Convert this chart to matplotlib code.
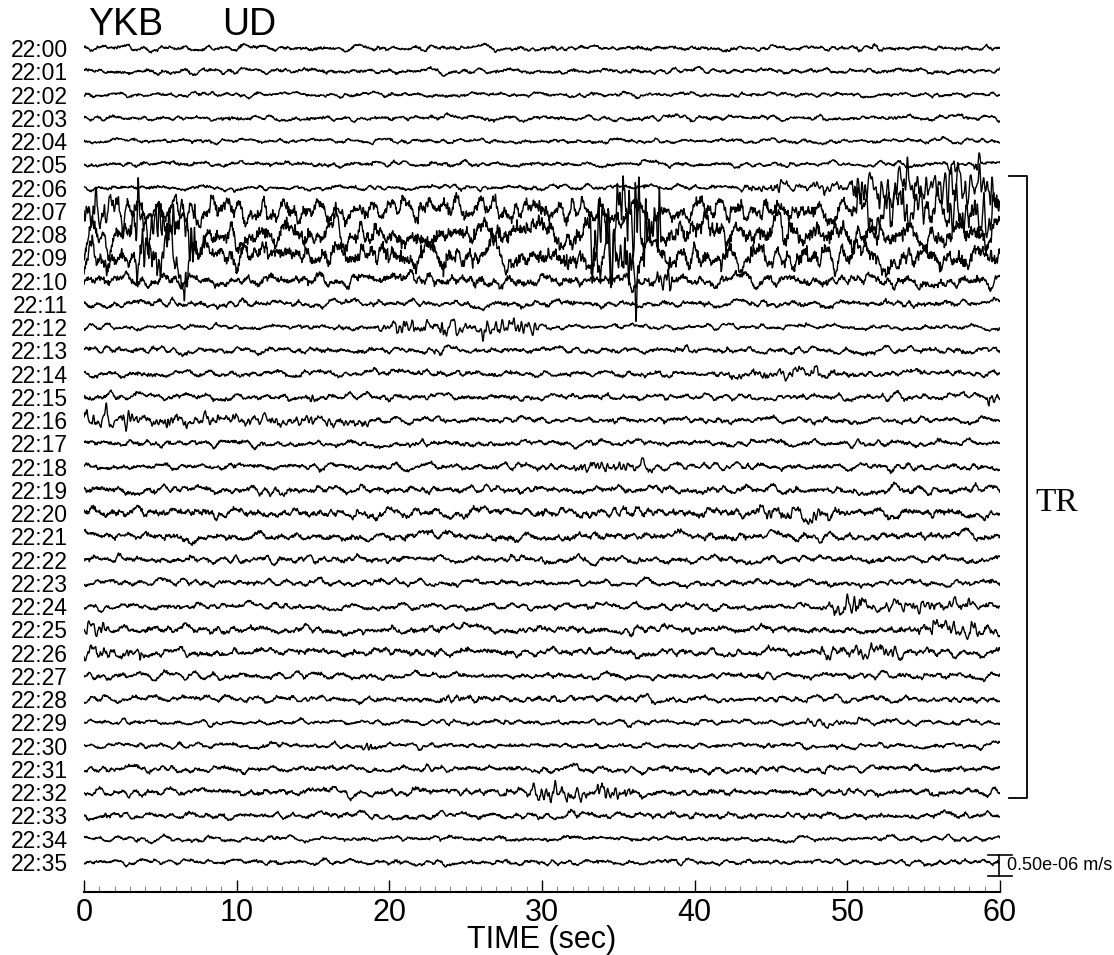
import numpy as np
import matplotlib.pyplot as plt
from matplotlib.ticker import MultipleLocator

plt.rcParams['font.family'] = ['Liberation Sans', 'DejaVu Sans']

# start time of each one-minute record (station YKB, UD component)
trace_labels = ["22:%02d" % m for m in range(36)]

# background peak amplitude of each record (1e-6 m/s)
base_amp = [0.08, 0.08, 0.07, 0.08, 0.07, 0.08, 0.08, 0.36, 0.42, 0.40,
            0.19, 0.11, 0.08, 0.10, 0.10, 0.10, 0.10, 0.10, 0.10, 0.12,
            0.15, 0.13, 0.11, 0.10, 0.10, 0.12, 0.12, 0.10, 0.10, 0.08,
            0.08, 0.10, 0.11, 0.10, 0.08, 0.08]

# bursts seen on the records: (record index, start s, end s, peak 1e-6 m/s)
bursts = [
    (5, 56.5, 57.3, 0.30), (5, 58.2, 58.8, 0.30),
    (6, 43.0, 50.0, 0.12), (6, 50.0, 60.0, 0.60),
    (7, 0.0, 3.0, 0.45), (7, 50.0, 60.0, 0.55),
    (8, 3.0, 7.5, 0.85), (8, 33.0, 38.0, 1.25),
    (9, 3.0, 7.0, 0.65), (9, 33.0, 36.5, 0.95),
    (10, 37.0, 39.0, 0.30),
    (12, 19.0, 30.0, 0.20),
    (14, 42.0, 49.0, 0.15),
    (15, 14.5, 15.2, 0.15), (15, 59.0, 60.0, 0.25),
    (16, 0.0, 2.0, 0.40), (16, 2.0, 9.0, 0.20), (16, 9.0, 19.0, 0.13),
    (18, 32.0, 37.5, 0.14),
    (20, 44.0, 49.0, 0.15),
    (24, 48.5, 51.5, 0.25), (24, 51.5, 60.0, 0.13),
    (25, 0.0, 2.0, 0.20), (25, 54.5, 60.0, 0.20),
    (26, 0.0, 4.0, 0.15), (26, 48.0, 54.0, 0.17),
    (28, 23.0, 26.0, 0.10),
    (29, 47.0, 50.0, 0.08),
    (30, 18.0, 19.5, 0.15),
    (32, 29.0, 36.0, 0.22),
]

scale_value = 0.5          # scale bar, 1e-6 m/s
bracket_first, bracket_last = "22:06", "22:32"

dt = 0.01
t = np.arange(0, 60 + dt / 2, dt)
spacing = 0.554            # vertical distance between records, 1e-6 m/s


def smooth_noise(rng, sigma_s):
    s = sigma_s / dt
    half = int(4 * s) + 1
    k = np.exp(-0.5 * (np.arange(-half, half + 1) / s) ** 2)
    w = rng.standard_normal(len(t) + 2 * half)
    y = np.convolve(w, k, mode="valid")
    return y / y.std()


def envelope(t0, t1):
    r = min(0.3, (t1 - t0) / 3)
    e = np.clip(np.minimum((t - t0) / r, (t1 - t) / r), 0, 1)
    if t0 <= 0:
        e[t < t1 - r] = 1.0
    if t1 >= 60:
        e[t > t0 + r] = 1.0
    return e * (t >= t0) * (t <= t1)


fig = plt.figure(figsize=(11.14, 9.55), dpi=100)
ax = fig.add_axes([84 / 1114, 63 / 955, 916 / 1114, 872 / 955])

offsets = []
for i, label in enumerate(trace_labels):
    rng = np.random.default_rng(1000 + i)
    y = base_amp[i] / 2.5 * (smooth_noise(rng, 0.14) + 0.4 * smooth_noise(rng, 0.015))
    for j, t0, t1, amp in bursts:
        if j == i:
            y += amp / 2.5 * smooth_noise(rng, 0.045) * envelope(t0, t1)
    off = -i * spacing
    offsets.append(off)
    ax.plot(t, y + off, color="black", lw=1.0)

ax.set_xlim(0, 60)
ax.set_ylim(-36.29 * spacing, 1.204 * spacing)
for side in ["left", "right", "top"]:
    ax.spines[side].set_visible(False)
ax.spines["bottom"].set_linewidth(1.5)

ax.xaxis.set_major_locator(MultipleLocator(10))
ax.xaxis.set_minor_locator(MultipleLocator(1))
ax.tick_params(axis="x", which="major", direction="in", length=8.6, width=1.0,
               labelsize=22, pad=4)
ax.tick_params(axis="x", which="minor", direction="in", length=4.3, width=0.8,
               color="#888888")
ax.set_xlabel("TIME (sec)", fontsize=22, labelpad=-2)

ax.set_yticks(offsets)
ax.set_yticklabels(trace_labels, fontsize=16.5)
ax.tick_params(axis="y", length=0, pad=11.5)

# station / component header
fig.text(88 / 1114, 1 - 35 / 955, "YKB", fontsize=27, ha="left", va="baseline")
fig.text(222 / 1114, 1 - 35 / 955, "UD", fontsize=27, ha="left", va="baseline")

# bracket marking the tremor (TR) records
i0 = trace_labels.index(bracket_first) - 0.5
i1 = trace_labels.index(bracket_last) + 0.25
xb, xt = 61.77, 60.59
ax.plot([xt, xb, xb, xt], [-i0 * spacing, -i0 * spacing, -i1 * spacing, -i1 * spacing],
        color="black", lw=1.3, clip_on=False)
ax.text(62.3, -19.56 * spacing, "TR", fontsize=24, family="Liberation Serif",
        ha="left", va="center")

# amplitude scale bar
top = -34.70 * spacing
bot = top - scale_value
ax.plot([59.93, 59.93], [top, bot], color="black", lw=1.2, clip_on=False)
ax.plot([59.21, 60.79], [top, top], color="black", lw=1.2, clip_on=False)
ax.plot([59.21, 60.79], [bot, bot], color="black", lw=1.2, clip_on=False)
ax.text(60.46, (top + bot) / 2, "%.2fe-06 m/s" % scale_value, fontsize=13,
        ha="left", va="center")

fig.savefig("out.png", dpi=100)
